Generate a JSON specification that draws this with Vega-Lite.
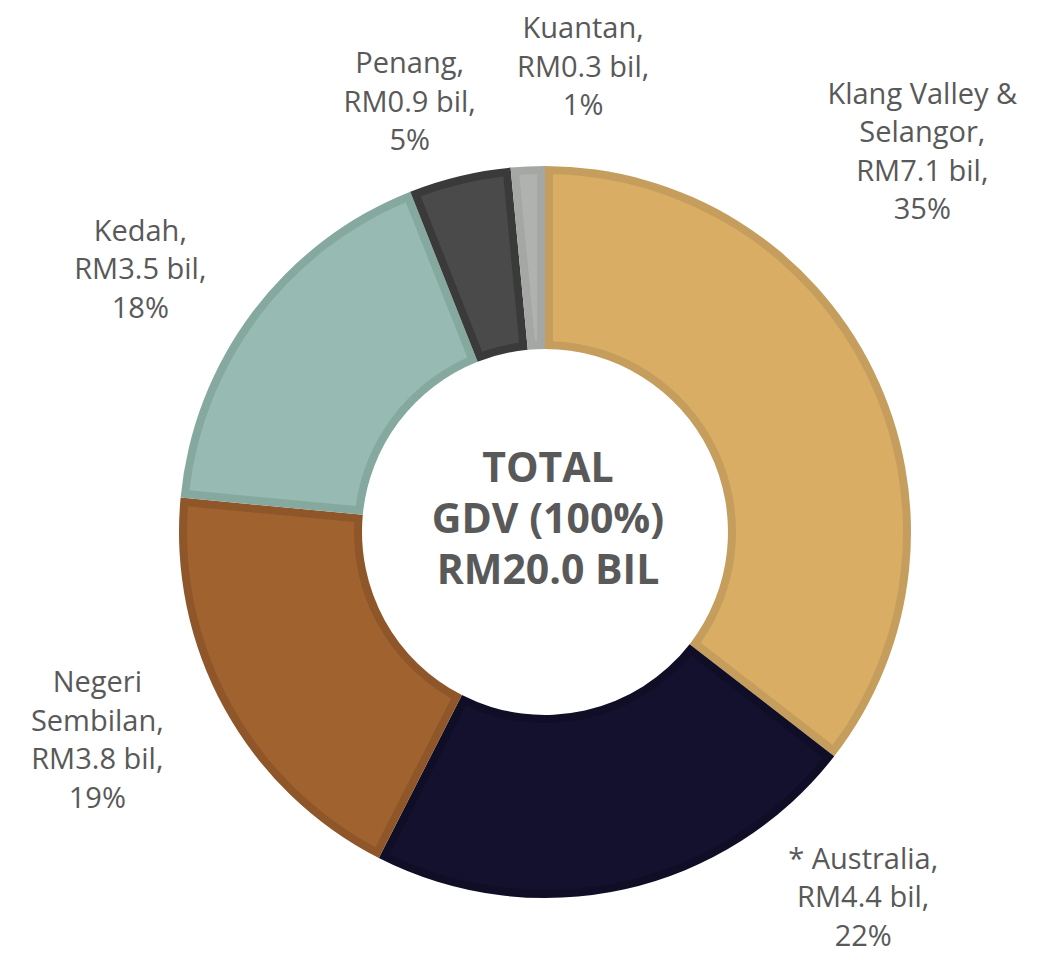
{
  "$schema": "https://vega.github.io/schema/vega-lite/v6.json",
  "width": 986,
  "height": 856,
  "autosize": {"type": "none"},
  "padding": {"left": 52, "top": 104, "right": 0, "bottom": 0},
  "background": "white",
  "view": {"stroke": null},
  "data": {
    "values": [
      {"rank": 1, "region": "Klang Valley & Selangor", "value": 7.1, "label": "Klang Valley &\nSelangor,\nRM7.1 bil,\n35%"},
      {"rank": 2, "region": "* Australia", "value": 4.4, "label": "* Australia,\nRM4.4 bil,\n22%"},
      {"rank": 3, "region": "Negeri Sembilan", "value": 3.8, "label": "Negeri\nSembilan,\nRM3.8 bil,\n19%"},
      {"rank": 4, "region": "Kedah", "value": 3.5, "label": "Kedah,\nRM3.5 bil,\n18%"},
      {"rank": 5, "region": "Penang", "value": 0.9, "label": "Penang,\nRM0.9 bil,\n5%"},
      {"rank": 6, "region": "Kuantan", "value": 0.3, "label": "Kuantan,\nRM0.3 bil,\n1%"}
    ]
  },
  "layer": [
    {
      "mark": {"type": "arc", "outerRadius": 366, "innerRadius": 183},
      "encoding": {
        "theta": {"field": "value", "type": "quantitative", "stack": true},
        "order": {"field": "rank", "type": "quantitative"},
        "detail": {"field": "region"},
        "fill": {
          "field": "region", "type": "nominal", "legend": null,
          "scale": {
            "domain": ["Klang Valley & Selangor", "* Australia", "Negeri Sembilan", "Kedah", "Penang", "Kuantan"],
            "range": ["#C59E5E", "#100E27", "#8F5629", "#86A99F", "#3A3A3A", "#A5A7A4"]
          }
        }
      }
    },
    {
      "mark": {"type": "arc", "outerRadius": 358, "innerRadius": 191, "padAngle": 0.0394},
      "encoding": {
        "theta": {"field": "value", "type": "quantitative", "stack": true},
        "order": {"field": "rank", "type": "quantitative"},
        "detail": {"field": "region"},
        "color": {
          "field": "region", "type": "nominal", "legend": null,
          "scale": {
            "domain": ["Klang Valley & Selangor", "* Australia", "Negeri Sembilan", "Kedah", "Penang", "Kuantan"],
            "range": ["#D9AD63", "#14112F", "#A0622E", "#97BAB2", "#4A4A4A", "#B0B2AF"]
          }
        }
      }
    },
    {
      "mark": {"type": "text", "radius": 535, "thetaOffset": -0.3325, "dy": -57.75, "font": "Open Sans", "fontSize": 29, "color": "#595959", "lineBreak": "\n", "lineHeight": 38.5, "align": "center", "baseline": "middle"},
      "encoding": {
        "theta": {"field": "value", "type": "quantitative", "stack": true},
        "order": {"field": "rank", "type": "quantitative"},
        "detail": {"field": "region"},
        "text": {"condition": {"test": "datum.region === 'Klang Valley & Selangor'", "field": "label"}, "value": ""}
      }
    },
    {
      "mark": {"type": "text", "radius": 485, "thetaOffset": -0.4957, "dy": -38.5, "font": "Open Sans", "fontSize": 29, "color": "#595959", "lineBreak": "\n", "lineHeight": 38.5, "align": "center", "baseline": "middle"},
      "encoding": {
        "theta": {"field": "value", "type": "quantitative", "stack": true},
        "order": {"field": "rank", "type": "quantitative"},
        "detail": {"field": "region"},
        "text": {"condition": {"test": "datum.region === '* Australia'", "field": "label"}, "value": ""}
      }
    },
    {
      "mark": {"type": "text", "radius": 494, "thetaOffset": 0.0663, "dy": -57.75, "font": "Open Sans", "fontSize": 29, "color": "#595959", "lineBreak": "\n", "lineHeight": 38.5, "align": "center", "baseline": "middle"},
      "encoding": {
        "theta": {"field": "value", "type": "quantitative", "stack": true},
        "order": {"field": "rank", "type": "quantitative"},
        "detail": {"field": "region"},
        "text": {"condition": {"test": "datum.region === 'Negeri Sembilan'", "field": "label"}, "value": ""}
      }
    },
    {
      "mark": {"type": "text", "radius": 482, "thetaOffset": -0.0698, "dy": -38.5, "font": "Open Sans", "fontSize": 29, "color": "#595959", "lineBreak": "\n", "lineHeight": 38.5, "align": "center", "baseline": "middle"},
      "encoding": {
        "theta": {"field": "value", "type": "quantitative", "stack": true},
        "order": {"field": "rank", "type": "quantitative"},
        "detail": {"field": "region"},
        "text": {"condition": {"test": "datum.region === 'Kedah'", "field": "label"}, "value": ""}
      }
    },
    {
      "mark": {"type": "text", "radius": 450, "thetaOffset": -0.0698, "dy": -38.5, "font": "Open Sans", "fontSize": 29, "color": "#595959", "lineBreak": "\n", "lineHeight": 38.5, "align": "center", "baseline": "middle"},
      "encoding": {
        "theta": {"field": "value", "type": "quantitative", "stack": true},
        "order": {"field": "rank", "type": "quantitative"},
        "detail": {"field": "region"},
        "text": {"condition": {"test": "datum.region === 'Penang'", "field": "label"}, "value": ""}
      }
    },
    {
      "mark": {"type": "text", "radius": 466, "thetaOffset": 0.129, "dy": -38.5, "font": "Open Sans", "fontSize": 29, "color": "#595959", "lineBreak": "\n", "lineHeight": 38.5, "align": "center", "baseline": "middle"},
      "encoding": {
        "theta": {"field": "value", "type": "quantitative", "stack": true},
        "order": {"field": "rank", "type": "quantitative"},
        "detail": {"field": "region"},
        "text": {"condition": {"test": "datum.region === 'Kuantan'", "field": "label"}, "value": ""}
      }
    },
    {
      "data": {"values": [{"total": "TOTAL\nGDV (100%)\nRM20.0 BIL"}]},
      "mark": {"type": "text", "font": "Open Sans", "fontWeight": "bold", "fontSize": 41, "color": "#595959", "lineBreak": "\n", "lineHeight": 51, "align": "center", "baseline": "middle", "dx": 3, "dy": -62},
      "encoding": {
        "text": {"field": "total", "type": "nominal"}
      }
    }
  ]
}
